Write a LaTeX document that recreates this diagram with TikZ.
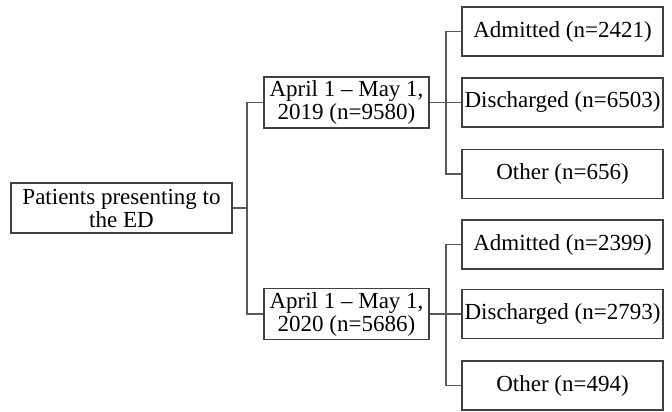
\documentclass[tikz,border=0pt]{standalone}
\usepackage{fontspec}
\setmainfont{Liberation Serif}
\begin{document}
\begin{tikzpicture}[x=1pt,y=-1pt,
  box/.style={draw=black!75, line width=1.2pt, rectangle, inner sep=0pt, align=center,
    font=\fontsize{23}{23}\selectfont, minimum height=50pt},
  rootbox/.style={box, minimum width=221pt},
  yearbox/.style={box, minimum width=165pt, minimum height=51pt},
  outbox/.style={box, minimum width=201pt, minimum height=49pt},
  link/.style={draw=black!65, line width=1.2pt}]
\useasboundingbox (0,0) rectangle (672,412);
\node[rootbox] (root) at (121.5,208) {Patients presenting to\\the ED};
\node[yearbox] (y19) at (346.5,102.5) {April 1 – May 1,\\2019 (n=9580)};
\node[yearbox] (y20) at (346.5,314) {April 1 – May 1,\\2020 (n=5686)};
\node[outbox] (a1) at (562.5,31.5) {Admitted (n=2421)};
\node[outbox] (d1) at (562.5,102.5) {Discharged (n=6503)};
\node[outbox] (o1) at (562.5,174) {Other (n=656)};
\node[outbox] (a2) at (562.5,244.5) {Admitted (n=2399)};
\node[outbox] (d2) at (562.5,314) {Discharged (n=2793)};
\node[outbox] (o2) at (562.5,385.5) {Other (n=494)};
\coordinate (j0) at (247,208);
\coordinate (j1) at (446,102.5);
\coordinate (j2) at (446,314);
\draw[link] (root.east) -- (j0);
\draw[link] (j0) |- (y19.west);
\draw[link] (j0) |- (y20.west);
\draw[link] (y19.east) -- (d1.west);
\draw[link] (j1) |- (a1.west);
\draw[link] (j1) |- (o1.west);
\draw[link] (y20.east) -- (d2.west);
\draw[link] (j2) |- (a2.west);
\draw[link] (j2) |- (o2.west);
\end{tikzpicture}
\end{document}
